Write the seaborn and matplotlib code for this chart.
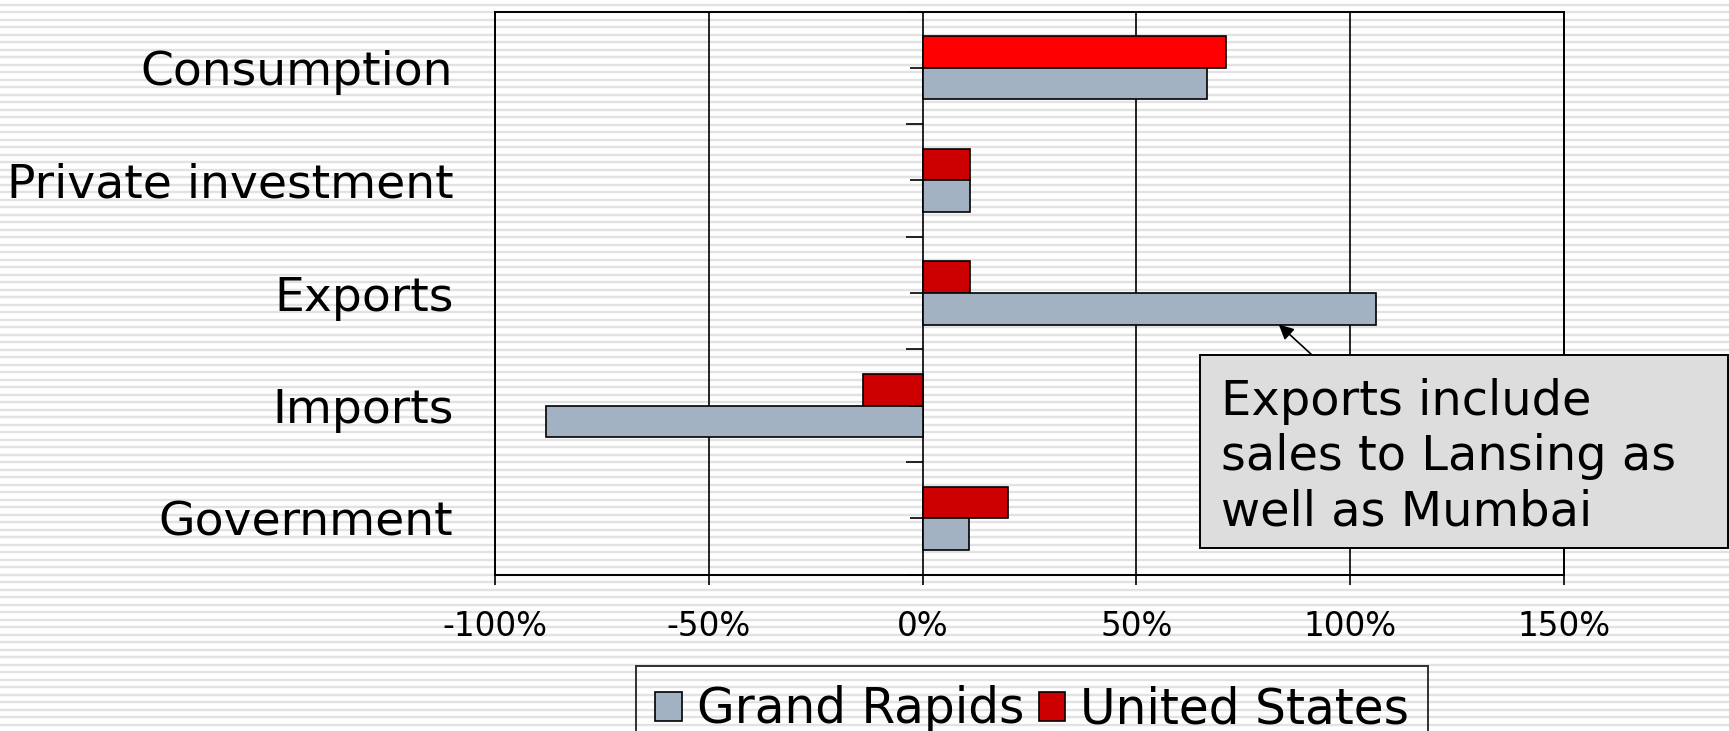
import numpy as np
import pandas as pd
import matplotlib
matplotlib.use('Agg')
import matplotlib.pyplot as plt
import seaborn as sns
from matplotlib.patches import Patch, Rectangle
from matplotlib.ticker import PercentFormatter

# -------------------- Data --------------------
categories = ['Consumption', 'Private investment', 'Exports', 'Imports', 'Government']
grand_rapids = [0.664, 0.112, 1.06, -0.88, 0.108]
united_states = [0.71, 0.112, 0.112, -0.14, 0.20]
x_ticks = [-1.0, -0.5, 0.0, 0.5, 1.0, 1.5]
note = 'Exports include\nsales to Lansing as\nwell as Mumbai'

df = pd.DataFrame({
    'Category': categories * 2,
    'Change': united_states + grand_rapids,
    'Region': ['United States'] * len(categories) + ['Grand Rapids'] * len(categories),
})

sns.set_style('white')
plt.rcParams['font.family'] = ['DejaVu Sans']
plt.rcParams['axes.unicode_minus'] = False
plt.rcParams['text.color'] = 'black'
plt.rcParams['xtick.color'] = 'black'
plt.rcParams['ytick.color'] = 'black'

W, H = 1729, 731
fig = plt.figure(figsize=(W / 100, H / 100), dpi=100)
fig.patch.set_facecolor('white')

# striped slide background
bg = fig.add_axes([0, 0, 1, 1], zorder=-5)
bg.set_xlim(0, W)
bg.set_ylim(H, 0)
bg.axis('off')
bg.hlines(np.arange(4.7, H, 7.5), 0, W, color='#E2E2E2', lw=1.7)

# -------------------- Bar chart --------------------
ax = fig.add_axes([495 / W, 1 - 574.5 / H, (1564 - 495) / W, (574.5 - 11.5) / H])
ax.set_facecolor('none')
colors = {'United States': '#CC0000', 'Grand Rapids': '#A3B2C2'}
sns.barplot(data=df, y='Category', x='Change', hue='Region',
            hue_order=['United States', 'Grand Rapids'], palette=colors,
            saturation=1, orient='h', width=0.56, edgecolor='black', linewidth=1.2,
            errorbar=None, legend=False, ax=ax)
# first US bar is highlighted in bright red
ax.containers[0][0].set_facecolor('#FF0000')

ax.set_xlim(x_ticks[0], x_ticks[-1])
ax.set_ylim(len(categories) - 0.5, -0.5)
ax.set_xticks(x_ticks)
ax.xaxis.set_major_formatter(PercentFormatter(1.0, decimals=0))
ax.grid(axis='x', color='black', lw=1.2)
ax.set_axisbelow(True)
for s in ax.spines.values():
    s.set_visible(True)
    s.set_color('black')
    s.set_linewidth(1.4)
ax.set_xlabel('')
ax.set_ylabel('')
ax.tick_params(axis='x', bottom=True, length=7.5, width=1.2, color='black',
               labelsize=23.5, labelcolor='black', pad=18)
ax.tick_params(axis='y', left=False, length=0, labelsize=34, labelcolor='black', pad=30)

# category axis crosses at zero
pos = np.arange(len(categories))
ax.plot(np.zeros(len(pos)), pos, ls='', marker=0, ms=9.5, mew=1.2, color='black', clip_on=False)
ax.plot(np.zeros(len(pos) + 1), np.append(pos - 0.5, pos[-1] + 0.5), ls='', marker=0,
        ms=12.5, mew=1.2, color='black', clip_on=False)

# -------------------- Callout --------------------
fig.add_artist(Rectangle((1200 / W, 1 - 548 / H), (1728 - 1200) / W, (548 - 355) / H,
                         transform=fig.transFigure, facecolor='#DDDDDD',
                         edgecolor='black', lw=1.4, zorder=5))
fig.text(1221 / W, 1 - 457 / H, note, fontsize=34.5, ha='left', va='center',
         linespacing=1.22, zorder=6)
ax.annotate('', xy=(0.833, 2.28), xycoords='data',
            xytext=(1312 / W, 1 - 355 / H), textcoords='figure fraction',
            arrowprops=dict(arrowstyle='-|>', color='black', lw=1.2,
                            mutation_scale=22, shrinkA=0, shrinkB=0))

# -------------------- Legend --------------------
handles = [Patch(facecolor=colors['Grand Rapids'], edgecolor='black', lw=1.2),
           Patch(facecolor=colors['United States'], edgecolor='black', lw=1.2)]
leg = fig.legend(handles, ['Grand Rapids', 'United States'], ncol=2,
                 loc='upper left', bbox_to_anchor=(636 / W, 1 - 666 / H),
                 fontsize=35, frameon=True, fancybox=False, borderpad=0.4,
                 handlelength=0.55, handleheight=0.55, handletextpad=0.3,
                 columnspacing=0.3, borderaxespad=0)
leg.get_frame().set_edgecolor('black')
leg.get_frame().set_facecolor('none')
leg.get_frame().set_linewidth(1.4)

plt.savefig('out.png', dpi=100)
plt.close()
